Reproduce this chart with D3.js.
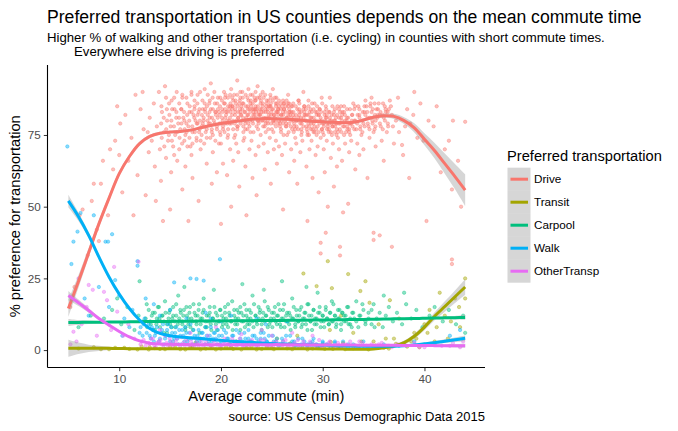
<!DOCTYPE html>
<html><head><meta charset="utf-8">
<script src="https://cdn.jsdelivr.net/npm/d3@7"></script>
<style>body{margin:0;background:#fff}svg{display:block}text{font-family:"Liberation Sans",Arial,sans-serif}</style>
</head><body><svg id="c" width="678" height="431"></svg>
<script>
const series = ["Drive","Transit","Carpool","Walk","OtherTransp"];
const colors = ["#F8766D","#A3A500","#00BF7D","#00B0F6","#E76BF3"];
const xTicks = [10,20,30,40];
const yTicks = [0,25,50,75];
const fitX = [5,6,7,8,9,10,11,12,13,14,15,16,17,18,19,20,21,22,23,24,25,26,27,28,29,30,31,32,33,34,35,36,37,38,39,40,41,42,43,44];
const driveFit = [14.5,24,34,44,53,61.5,67.5,72,74.5,75.6,76,76.2,76.7,77.5,78.3,79,79.5,80,80.5,80.7,80.7,80.6,80.4,80.1,79.8,79.6,79.4,79.3,79.4,80.2,81.2,81.7,81.5,80,77.5,73.5,69.5,65,60.5,55.8];
const driveSe = [3,2.2,1.6,1.3,1.1,0.9,0.8,0.7,0.6,0.5,0.5,0.5,0.5,0.5,0.5,0.5,0.5,0.5,0.5,0.5,0.5,0.5,0.5,0.5,0.5,0.5,0.5,0.5,0.5,0.55,0.6,0.7,0.9,1.2,1.6,2.1,2.7,3.5,4.4,5.5];
const transitFit = [0.6,0.6,0.6,0.6,0.6,0.55,0.5,0.5,0.5,0.45,0.45,0.45,0.45,0.45,0.45,0.45,0.45,0.45,0.45,0.45,0.45,0.45,0.45,0.45,0.45,0.4,0.4,0.35,0.3,0.3,0.4,0.8,1.4,2.6,4.8,8,11.8,15.2,18.6,22];
const transitSe = [3,2,1.3,0.9,0.6,0.45,0.35,0.3,0.3,0.3,0.3,0.3,0.3,0.3,0.3,0.3,0.3,0.3,0.3,0.3,0.3,0.3,0.3,0.3,0.3,0.3,0.3,0.3,0.3,0.3,0.3,0.4,0.5,0.7,0.9,1.1,1.4,1.8,2.2,2.7];
const carpoolFit = [9.6,9.65,9.7,9.7,9.75,9.8,9.85,9.9,9.95,9.95,10,10.05,10.05,10.1,10.1,10.15,10.2,10.2,10.25,10.3,10.3,10.35,10.4,10.4,10.45,10.5,10.55,10.6,10.65,10.7,10.75,10.8,10.9,10.95,11,11.1,11.15,11.25,11.3,11.4];
const carpoolSe = [1.2,0.8,0.6,0.45,0.35,0.3,0.3,0.3,0.3,0.3,0.3,0.3,0.3,0.3,0.3,0.3,0.3,0.3,0.3,0.3,0.3,0.3,0.3,0.3,0.3,0.3,0.3,0.3,0.3,0.3,0.3,0.3,0.3,0.3,0.3,0.35,0.4,0.5,0.6,0.8];
const walkFit = [52,46.5,40,32.5,25.5,19.5,14.5,10.5,7.5,5.8,5,4.6,4.3,4,3.7,3.4,3.1,2.9,2.7,2.5,2.3,2.1,2,1.9,1.8,1.7,1.6,1.5,1.4,1.35,1.3,1.3,1.35,1.5,1.8,2.2,2.6,3.1,3.6,4.1];
const walkSe = [2.2,1.5,1,0.7,0.5,0.4,0.35,0.3,0.3,0.3,0.3,0.3,0.3,0.3,0.3,0.3,0.3,0.3,0.3,0.3,0.3,0.3,0.3,0.3,0.3,0.3,0.3,0.3,0.3,0.3,0.3,0.3,0.3,0.35,0.4,0.45,0.55,0.65,0.8,1];
const otherFit = [19,16.5,13.8,11,8.7,6.5,4.6,3.2,2.4,2.1,2,1.95,1.9,1.9,1.9,1.9,1.9,1.9,1.9,1.9,1.9,1.9,1.85,1.85,1.8,1.8,1.8,1.75,1.75,1.7,1.7,1.65,1.65,1.6,1.6,1.6,1.55,1.55,1.5,1.5];
const otherSe = [1.6,1.1,0.8,0.55,0.4,0.35,0.3,0.3,0.3,0.3,0.3,0.3,0.3,0.3,0.3,0.3,0.3,0.3,0.3,0.3,0.3,0.3,0.3,0.3,0.3,0.3,0.3,0.3,0.3,0.3,0.3,0.3,0.3,0.3,0.35,0.4,0.45,0.5,0.6,0.7];

const drivePts = [[5.2,15],[5.6,22],[6.1,47],[6.4,49],[6.9,33],[7.3,52],[7.5,58],[7.8,42],[8.2,58],[8.4,66],[8.9,47],[9.1,70],[9.4,63],[9.6,73],[9.8,85],[10.1,79],[10.3,55],[10.6,82],[10.9,66],[11.2,74],[11.6,89],[11.8,61],[12.1,84],[12.4,77],[12.6,54],[12.9,69],[11.4,47],[10.0,68],[12.3,90],[8.0,38],
[13.0,81],[13.2,73],[13.4,86],[13.5,64],[13.7,78],[13.9,90],[14.0,70],[14.1,59],[14.2,83],[14.4,76],[14.5,92],[14.6,67],[14.7,80],[14.8,73],[14.9,86],[15.0,49],[15.05,78],[15.1,62],[15.2,84],[15.3,71],[15.4,88],[15.5,75],[15.6,81],[15.7,66],[15.8,79],[13.6,52],[14.3,45],[12.8,76],
[16.0,77],[16.1,84],[15.9,70],[16.2,56],[16.3,81],[16.4,73],[16.2,88],[16.5,64],[16.6,79],[16.7,86],[16.5,75],[16.8,45],[16.9,83],[17.0,71],[16.8,78],[17.1,90],[17.2,76],[17.3,82],[17.1,68],[17.4,87],[17.2,60],[17.5,80],[17.6,74],[17.4,85],[17.7,79],[17.8,83],[17.9,77],[17.7,89],[18.0,70],[17.8,52],[18.1,78],[18.2,84],[18.0,73],[18.3,81],[18.4,86],[18.5,76],[18.3,80],[18.6,65],[18.4,91],[18.7,82],[18.8,79],[18.6,74],[18.9,87],[19.0,84],[19.1,77],[18.9,81],[19.2,69],[19.0,93],[19.1,58],[19.3,80],[19.4,86],[19.2,75],[19.5,83],[19.6,78],[19.7,88],[19.5,82],[19.8,72],[19.6,62],[19.9,85],[20.0,79],[19.8,83],[19.9,76],[20.0,44],
[20.1,81],[20.3,86],[20.2,77],[20.4,84],[20.0,72],[20.3,90],[20.2,65],[20.5,83],[20.6,79],[20.4,88],[20.7,75],[20.5,82],[20.6,61],[20.8,80],[20.9,85],[20.7,77],[21.0,91],[20.8,84],[20.9,70],[21.0,50],[21.1,82],[21.2,87],[21.0,79],[21.3,74],[21.1,85],[21.2,66],[21.4,84],[21.5,80],[21.3,89],[21.6,77],[21.4,83],[21.5,72],[21.6,94],[21.7,81],[21.8,86],[21.6,78],[21.9,83],[21.7,69],[21.8,57],[22.0,85],[22.1,80],[21.9,88],[22.2,76],[22.0,82],[22.1,90],[22.2,73],[22.3,83],[22.4,79],[22.2,86],[22.5,81],[22.3,74],[22.4,64],[22.5,47],[22.6,82],[22.7,87],[22.5,80],[22.8,84],[22.6,77],[22.7,91],[22.8,70],[22.9,86],[23.0,81],[22.8,78],[23.1,84],[22.9,89],[23.0,73],[23.1,60],[23.2,83],[23.3,88],[23.1,80],[23.4,85],[23.2,76],[23.3,82],[23.4,68],[23.5,84],[23.6,80],[23.4,87],[23.7,82],[23.5,78],[23.6,92],[23.7,71],[23.5,54],[23.8,82],[23.9,86],[23.7,79],[24.0,84],[23.8,88],[23.9,75],[24.1,85],[24.2,81],[24.0,83],[24.3,78],[24.1,90],[24.2,72],[24.3,63],[24.4,83],[24.5,87],[24.3,80],[24.6,84],[24.4,76],[24.5,86],[24.6,69],[24.7,82],[24.8,85],[24.6,79],[24.9,88],[24.7,81],[24.8,74],[24.9,58],[25.0,84],[25.1,80],[24.9,86],[25.2,82],[25.0,77],[25.1,91],[25.2,70],[25.3,81],[25.4,85],[25.2,79],[25.5,83],[25.3,88],[25.4,73],[25.5,65],[25.6,83],[25.7,80],[25.5,86],[25.8,78],[25.6,84],[25.7,71],[25.9,82],[26.0,85],[25.8,79],[26.1,87],[25.9,76],[26.0,68],[26.1,49],[26.2,84],[26.3,80],[26.1,83],[26.4,78],[26.2,86],[26.3,72],[26.5,81],[26.6,85],[26.4,79],[26.7,83],[26.5,75],[26.6,89],[26.7,62],[26.8,83],[26.9,80],[26.7,86],[27.0,77],[26.8,82],[26.9,70],
[27.1,82],[27.2,78],[27.0,85],[27.3,74],[27.1,80],[27.2,66],[27.4,80],[27.5,84],[27.3,77],[27.6,87],[27.4,72],[27.5,58],[27.7,83],[27.8,79],[27.6,81],[27.9,75],[27.7,86],[27.8,69],[28.0,80],[28.1,84],[27.9,77],[28.2,82],[28.0,73],[28.1,90],[28.3,82],[28.4,78],[28.2,85],[28.5,76],[28.3,80],[28.4,64],[28.5,45],[28.6,79],[28.7,83],[28.5,75],[28.8,81],[28.6,87],[28.7,70],[28.9,81],[29.0,77],[28.8,84],[29.1,79],[28.9,73],[29.0,60],[29.2,80],[29.3,83],[29.1,76],[29.4,82],[29.2,86],[29.3,68],[29.5,78],[29.6,82],[29.4,75],[29.7,80],[29.5,71],[29.6,55],[29.8,81],[29.9,77],[29.7,84],[30.0,79],[29.8,74],[29.9,88],[30.1,79],[30.2,83],[30.0,76],[30.3,81],[30.1,70],[30.2,62],[30.4,82],[30.5,78],[30.3,85],[30.6,77],[30.4,73],[30.5,50],[30.7,80],[30.8,76],[30.6,83],[30.9,79],[30.7,88],[30.8,67],[31.0,78],[31.1,82],[30.9,75],[31.2,80],[31.0,72],[31.1,57],[31.3,81],[31.4,77],[31.2,84],[31.5,74],[31.3,79],[31.4,64],[31.6,79],[31.7,83],[31.5,76],[31.8,81],[31.6,70],[31.9,82],[32.0,78],[31.8,85],[32.1,75],[31.9,66],[32.0,48],[32.2,80],[32.3,76],[32.1,83],[32.4,78],[32.2,72],[32.5,81],[32.6,77],[32.4,84],[32.7,79],[32.5,51],[32.6,69],[32.8,79],[32.9,82],[32.7,75],[33.0,86],[32.8,73],
[33.2,80],[33.3,77],[33.1,84],[33.4,72],[33.2,63],[33.6,82],[33.7,78],[33.5,85],[33.8,75],[33.6,68],[34.0,79],[34.1,83],[33.9,76],[34.2,87],[34.0,70],[34.4,81],[34.5,78],[34.3,85],[34.6,74],[34.4,60],[34.8,83],[34.9,79],[34.7,86],[35.0,76],[34.8,88],[35.2,80],[35.3,84],[35.1,77],[35.4,82],[35.2,71],[35.6,82],[35.7,78],[35.5,86],[35.8,73],[35.6,40],[36.0,81],[36.1,85],[35.9,77],[36.2,83],[36.0,66],[36.4,79],[36.5,84],[36.3,76],[36.6,87],[36.8,82],[36.9,78],[36.7,85],[37.0,72],[36.8,36],
[37.2,80],[37.5,76],[37.8,71.5],[37.9,68],[38.3,84],[38.6,79],[38.9,82],[39.3,74],[39.6,86],[39.9,73],[40.4,80],[40.9,78],[41.2,85],[41.6,62],[42.0,70],[42.4,73],[42.7,56],[42.8,80],[43.3,66],[44.0,79.6],[43.6,50],[40.2,45],[38.5,60],[42.7,31.6],[42.7,30],[35.0,40.9],[35.0,38.4],[30.3,40.9],[29.8,37.4],[29.8,33.7],[31.7,36],[31.7,33],[37.4,88],[39.0,90],[38.1,78]];

const driveCore = [[14.12,79],[14.18,74],[14.15,85],[14.38,81],[14.43,71],[14.62,77],[14.68,84],[14.6,88],[14.88,75],[14.93,82],[15.12,80],[15.18,73],[15.15,87],[15.38,78],[15.43,84],[15.4,68],[15.62,83],[15.68,76],[15.65,90],[15.88,81],[15.93,74],[15.9,86],
[16.12,79],[16.18,72],[16.1,84],[16.2,89],[16.38,83],[16.43,77],[16.4,80],[16.62,76],[16.68,82],[16.6,88],[16.7,71],[16.88,80],[16.93,85],[16.9,74],
[17.12,83],[17.18,78],[17.1,89],[17.2,72],[17.38,81],[17.43,76],[17.4,84],[17.62,79],[17.68,86],[17.6,73],[17.7,82],[17.88,84],[17.93,80],[17.85,76],[17.95,90],
[18.12,82],[18.18,87],[18.1,75],[18.2,79],[18.38,78],[18.43,84],[18.35,72],[18.45,83],[18.62,85],[18.68,80],[18.6,77],[18.7,89],[18.88,83],[18.93,79],[18.85,86],[18.95,74],
[19.12,81],[19.18,88],[19.1,76],[19.2,84],[19.38,79],[19.43,83],[19.35,90],[19.45,73],[19.62,86],[19.68,81],[19.6,77],[19.7,84],[19.88,82],[19.93,88],[19.85,79],[19.95,75],
[20.12,84],[20.18,80],[20.1,87],[20.2,78],[20.15,83],[20.38,86],[20.43,81],[20.35,76],[20.45,89],[20.4,79],[20.62,83],[20.68,88],[20.6,80],[20.7,85],[20.65,74],[20.88,81],[20.93,86],[20.85,79],[20.95,83],[20.9,89],
[21.12,84],[21.18,80],[21.1,88],[21.2,77],[21.15,85],[21.38,82],[21.43,87],[21.35,79],[21.45,86],[21.4,75],[21.62,85],[21.68,81],[21.6,89],[21.7,83],[21.65,78],[21.88,84],[21.93,79],[21.85,87],[21.95,82],[21.9,90],
[22.12,86],[22.18,81],[22.1,84],[22.2,78],[22.15,88],[22.38,83],[22.43,89],[22.35,80],[22.45,85],[22.4,77],[22.62,85],[22.68,82],[22.6,88],[22.7,79],[22.65,84],[22.88,83],[22.93,87],[22.85,80],[22.95,85],[22.9,76],
[23.12,86],[23.18,82],[23.1,89],[23.2,84],[23.15,79],[23.38,84],[23.43,81],[23.35,87],[23.45,83],[23.4,90],[23.62,85],[23.68,80],[23.6,88],[23.7,83],[23.65,77],[23.88,82],[23.93,87],[23.85,84],[23.95,80],[23.9,89],
[24.12,86],[24.18,83],[24.1,80],[24.2,88],[24.15,78],[24.38,84],[24.43,81],[24.35,89],[24.45,85],[24.4,79],[24.62,83],[24.68,87],[24.6,80],[24.7,85],[24.65,77],[24.88,85],[24.93,82],[24.85,89],[24.95,83],[24.9,79],
[25.12,84],[25.18,80],[25.1,87],[25.2,82],[25.15,76],[25.38,86],[25.43,83],[25.35,80],[25.45,88],[25.4,78],[25.62,82],[25.68,85],[25.6,79],[25.7,87],[25.65,84],[25.88,84],[25.93,80],[25.85,86],[25.95,82],[25.9,77],
[26.12,82],[26.18,86],[26.1,79],[26.2,84],[26.15,75],[26.38,85],[26.43,81],[26.35,83],[26.45,87],[26.4,78],[26.62,82],[26.68,79],[26.6,86],[26.7,84],[26.65,76],[26.88,81],[26.93,85],[26.85,78],[26.95,83],
[27.12,83],[27.18,79],[27.1,86],[27.2,81],[27.15,76],[27.38,82],[27.43,78],[27.35,85],[27.45,80],[27.62,80],[27.68,84],[27.6,77],[27.7,82],[27.65,87],[27.88,83],[27.93,79],[27.85,81],[27.95,76],
[28.12,81],[28.18,85],[28.1,78],[28.2,83],[28.38,80],[28.43,77],[28.35,84],[28.45,82],[28.62,82],[28.68,78],[28.6,85],[28.7,80],[28.65,75],[28.88,79],[28.93,83],[28.85,77],[28.95,86],
[29.12,81],[29.18,78],[29.1,84],[29.2,76],[29.38,80],[29.43,83],[29.35,77],[29.45,85],[29.62,82],[29.68,79],[29.6,76],[29.7,84],[29.88,80],[29.93,77],[29.85,83],[29.95,86],
[30.12,78],[30.18,82],[30.1,75],[30.2,80],[30.38,81],[30.43,77],[30.35,84],[30.45,79],[30.62,79],[30.68,83],[30.6,76],[30.7,81],[30.88,82],[30.93,78],[30.85,80],[30.95,85],
[31.12,80],[31.18,76],[31.1,83],[31.2,78],[31.38,79],[31.43,82],[31.35,75],[31.45,85],[31.62,81],[31.68,77],[31.6,84],[31.7,79],[31.88,80],[31.93,83],[31.85,76],
[32.12,78],[32.18,82],[32.1,85],[32.38,81],[32.43,77],[32.35,80],[32.62,79],[32.68,84],[32.6,76],[32.88,82],[32.93,78],[32.85,80],
[33.12,80],[33.18,85],[33.1,77],[33.38,79],[33.43,82],[33.62,81],[33.68,77],[33.6,84],[33.88,80],[33.93,83],
[34.12,78],[34.18,82],[34.1,85],[34.38,83],[34.43,79],[34.62,81],[34.68,85],[34.6,77],[34.88,80],[34.93,84],
[35.12,82],[35.18,78],[35.1,86],[35.38,81],[35.43,84],[35.62,79],[35.68,83],[35.88,82],[35.93,86],[36.12,80],[36.18,84],[36.38,83],[36.43,78]];

const transitPts = [[6.0,0.5],[7.5,1],[9.0,0.3],[10.5,0.8],[11.8,0.2],[13.0,1],[14.0,0.4],[15.0,1.2],[16.0,0.3],[17.0,0.8],[18.0,0.2],[19.0,1.5],[20.0,0.5],[21.0,0.9],[22.0,0.2],[23.0,1.3],[24.0,0.4],[25.0,0.7],[26.0,2],[27.0,0.3],[28.0,1],[29.0,0.5],[30.0,1.8],[31.0,0.4],[32.0,2.5],[33.0,0.6],[34.0,1.5],[35.0,3],[36.0,0.8],[37.0,4],[38.0,2],[39.0,6],[40.0,9],[41.0,3],[42.0,12],[43.0,18],[44.0,25],[40.5,14],[41.5,20],[43.5,8],[39.5,1],[28.1,26.7],[32.5,26.5],[29.4,22.3],[30.9,21.6],[33.7,20.6],[36.6,17.4],[34.6,16.5],[30.5,31],[30.7,7],[33.0,6],[35.5,9],[37.5,11],[27.5,5],[31.8,12],[25.5,4],[21.5,3],[17.5,2.5],[34.2,24],[38.7,3],[42.3,4]];
const transitCore = [[8.2,0.3],[9.6,0.8],[11.0,0.4],[12.2,1.2],[12.9,0.2],[13.5,0.7],[14.5,0.3],[15.5,0.9],[16.5,0.2],[17.2,1.1],[18.5,0.5],[19.5,0.2],[20.5,1],[21.2,0.4],[22.5,0.8],[23.5,0.2],[24.5,1.1],[25.2,0.3],[26.5,0.6],[27.2,1.4],[28.5,0.2],[29.5,0.9],[30.2,0.4],[31.5,1.3],[32.2,0.3],[33.5,0.8],[34.5,0.2],[35.2,1.6],[36.5,0.5],[37.2,2.2],[38.3,1.2],[39.2,4],[40.3,6],[41.2,8],[42.6,10],[43.4,15],[44.0,18],[20.8,2],[26.8,2.3],[30.8,2.8],[33.8,3],[36.2,4]];

const carpoolPts = [[6.0,8],[7.2,12],[8.5,11],[9.3,14],[10.2,9],[10.8,15],[11.5,7],[11.9,12],[12.3,10],[12.7,16],[9.8,18],[12.0,24],
[13.1,9],[13.3,13],[13.5,7],[13.7,11],[13.9,15],[14.0,8],[14.2,12],[14.4,10],[14.5,17],[14.7,6],[14.9,13],[15.0,9],[15.2,11],[15.3,15],[15.5,8],[15.6,12],[15.8,19],[15.9,10],[16.0,14],
[16.2,9],[16.3,12],[16.5,7],[16.6,15],[16.8,11],[16.9,13],[17.0,8],[17.2,10],[17.3,16],[17.5,12],[17.6,9],[17.8,14],[17.9,6],[18.0,11],[18.2,13],[18.3,18],[18.5,10],[18.6,8],[18.8,12],[18.9,15],[19.0,9],[19.2,11],[19.3,21],[19.5,13],[19.6,7],[19.8,10],[19.9,14],[16.4,22],
[20.1,12],[20.2,9],[20.4,15],[20.5,11],[20.7,8],[20.8,13],[21.0,10],[21.1,17],[21.3,12],[21.4,9],[21.6,14],[21.7,11],[21.9,7],[22.0,13],[22.2,10],[22.3,16],[22.5,12],[22.6,9],[22.8,14],[22.9,11],[23.1,19],[23.2,8],[23.4,12],[23.5,10],[23.7,15],[23.8,13],[24.0,9],[24.1,11],[24.3,17],[24.4,12],[24.6,8],[24.7,14],[24.9,10],[25.0,13],[22.1,23],[24.2,21],
[25.2,11],[25.3,15],[25.5,9],[25.6,12],[25.8,14],[25.9,8],[26.1,11],[26.2,16],[26.4,10],[26.5,13],[26.7,9],[26.8,12],[27.0,18],[27.1,11],[27.3,8],[27.4,14],[27.6,10],[27.7,12],[27.9,15],[28.0,9],[28.2,11],[28.3,13],[28.5,7],[28.6,16],[28.8,10],[28.9,12],[29.1,14],[29.2,9],[29.4,11],[29.5,20],[29.7,13],[29.8,8],[30.0,12],[30.1,10],[30.3,15],[30.4,11],[30.6,9],[30.7,13],[30.9,17],[31.0,10],[31.2,12],[31.3,8],[31.5,14],[31.6,11],[31.8,9],[31.9,13],[26.0,24],[28.4,22],
[32.1,12],[32.3,10],[32.5,15],[32.7,9],[32.9,13],[33.1,11],[33.3,17],[33.5,8],[33.7,12],[34.0,14],[34.2,10],[34.5,13],[34.8,9],[35.0,16],[35.3,11],[35.6,13],[35.9,8],[36.2,12],[36.5,15],[36.9,10],[37.3,13],[37.8,9],[38.2,16],[38.7,11],[39.2,14],[39.8,8],[40.5,12],[41.0,15],[41.8,10],[42.4,14],[43.1,9],[43.8,12],[44.0,6],[36.0,19],[38.0,20]];
const carpoolCore = [[12.6,11],[12.75,8],[12.9,14],[13.05,10],[13.2,12],[13.35,7],[13.5,13],[13.65,9],[13.8,15],[13.95,11],[14.1,10],[14.25,12],[14.4,6],[14.55,13],[14.7,9],[14.85,11],[15.0,14],[15.15,8],[15.3,12],[15.45,10],[15.6,16],[15.75,9],[15.9,11],[16.05,13],
[16.2,10],[16.35,14],[16.5,8],[16.65,12],[16.8,9],[16.95,15],[17.1,11],[17.25,7],[17.4,13],[17.55,10],[17.7,12],[17.85,16],[18.0,9],[18.15,11],[18.3,14],[18.45,8],[18.6,12],[18.75,10],[18.9,13],[19.05,7],[19.2,11],[19.35,15],[19.5,9],[19.65,12],
[19.8,10],[19.95,14],[20.1,8],[20.25,11],[20.4,13],[20.55,9],[20.7,16],[20.85,12],[21.0,10],[21.15,7],[21.3,14],[21.45,11],[21.6,9],[21.75,13],[21.9,15],[22.05,10],[22.2,12],[22.35,8],[22.5,14],[22.65,11],[22.8,9],[22.95,13],[23.1,10],[23.25,16],
[23.4,12],[23.55,9],[23.7,11],[23.85,14],[24.0,7],[24.15,13],[24.3,10],[24.45,12],[24.6,15],[24.75,9],[24.9,11],[25.05,8],[25.2,13],[25.35,10],[25.5,12],[25.65,16],[25.8,9],[25.95,11],[26.1,14],[26.25,8],[26.4,12],[26.55,10],[26.7,13],[26.85,7],
[27.0,11],[27.15,15],[27.3,9],[27.45,12],[27.6,10],[27.75,14],[27.9,8],[28.05,11],[28.2,13],[28.35,9],[28.5,16],[28.65,12],[28.8,10],[28.95,7],[29.1,14],[29.25,11],[29.4,9],[29.55,13],[29.7,15],[29.85,10],[30.0,12],[30.15,8],[30.3,14],[30.45,11],
[30.6,9],[30.75,13],[30.9,10],[31.05,16],[31.2,12],[31.35,9],[31.5,11],[31.65,14],[31.8,7],[31.95,13],[32.1,10],[32.25,12],[32.4,15],[32.55,9],[32.7,11],[32.85,8],[33.0,13],[33.3,10],[33.6,12],[33.9,16],[34.2,9],[34.5,11],[34.8,14],[35.1,8]];

const walkPts = [[4.9,71],[5.5,37.8],[5.9,41.3],[6.2,47.8],[7.5,47],[8.65,37.8],[8.9,37.8],[9.3,40.4],[9.6,24.4],[11.8,29.4],[11.8,31],[15.4,23.6],[17.0,25],[17.6,24.8],[18.3,24.2],[19.9,31.7],[5.3,30],[6.6,18],[7.0,12],[8.0,22],[9.0,15],[10.0,19],[10.5,11],[11.0,8],[11.3,14],[12.0,6],[12.4,9],[12.6,18],[10.3,5],
[13.0,5],[13.2,8],[13.4,3],[13.6,6],[13.8,10],[14.0,4],[14.2,7],[14.4,2],[14.6,5],[14.8,9],[15.0,3],[15.2,6],[15.4,4],[15.6,8],[15.8,2],[16.0,5],[16.2,7],[16.4,3],[16.6,6],[16.8,4],[17.0,9],[17.2,2],[17.4,5],[17.6,3],[17.8,7],[18.0,4],[18.2,6],[18.4,2],[18.6,5],[18.8,3],[19.0,8],[19.2,4],[19.4,6],[19.6,2],[19.8,5],[20.0,3],[20.3,7],[20.6,4],[20.9,2],[21.2,5],[21.5,3],[21.8,6],[22.1,2],[22.4,4],[22.7,7],[23.0,3],[23.3,5],[23.6,2],[23.9,4],[24.2,6],[24.5,3],[24.8,2],[25.1,5],[25.4,3],[25.7,1.5],[26.0,4],[26.4,2],[26.8,5],[27.2,3],[27.6,1.5],[28.0,4],[28.5,2],[29.0,3],[29.5,1],[30.0,2.5],[30.6,1.5],[31.2,3],[31.8,1],[32.5,2],[33.2,1.5],[34.0,3],[35.0,1],[36.0,2],[37.5,1.5],[39.0,3],[41.0,2],[42.5,5],[43.5,7],[21.0,12],[23.5,11],[18.5,13],[26.5,10]];
const walkCore = [[12.1,8],[12.3,5],[12.5,11],[12.7,6],[12.9,9],[13.1,4],[13.3,7],[13.5,5],[13.7,8],[13.9,3],[14.1,6],[14.3,9],[14.5,4],[14.7,7],[14.9,5],[15.1,8],[15.3,3],[15.5,6],[15.7,4],[15.9,7],[16.1,2],[16.3,5],[16.5,8],[16.7,3],[16.9,6],[17.1,4],[17.3,7],[17.5,2],[17.7,5],[17.9,3],[18.1,6],[18.3,4],[18.5,8],[18.7,2],[18.9,5],[19.1,3],[19.3,6],[19.5,4],[19.7,7],[19.9,2],[20.1,5],[20.3,3],[20.5,6],[20.7,4],[20.9,2],[21.1,5],[21.3,3],[21.5,7],[21.7,2],[21.9,4],[22.1,3],[22.3,6],[22.5,2],[22.7,4],[22.9,3],[23.1,5],[23.3,2],[23.5,4],[23.7,3],[23.9,6],[24.1,2],[24.3,4],[24.5,3],[24.7,5],[24.9,2],[25.2,3],[25.5,4],[25.8,2],[26.1,3],[26.4,5],[26.7,2],[27.0,3],[27.3,1.5],[27.6,4],[27.9,2],[28.2,3],[28.5,1.5],[28.8,2.5],[29.1,4],[29.4,2],[29.7,1.5],[30.0,3],[30.4,2],[30.8,1],[31.2,2.5],[31.6,1.5],[32.0,3],[32.5,1],[33.0,2],[33.6,1.5],[14.0,12],[15.0,14],[16.6,11],[13.4,16],[20.0,10],[24.4,9],[19.0,11]];

const otherPts = [[5.5,6.4],[5.8,3],[6.3,9],[7.0,22.7],[7.4,21],[8.5,20.3],[8.8,17.4],[9.8,13.4],[6.8,15],[5.2,2],[7.8,5],[8.2,10],[9.2,7],[10.4,5],[10.9,9],[11.5,4],[12.2,3],[11.9,30.8],[6.0,25],[9.5,29],
[13.0,2],[13.3,4],[13.6,1],[13.9,3],[14.2,2],[14.5,5],[14.8,1.5],[15.1,3],[15.4,2],[15.7,4],[16.0,1],[16.3,2.5],[16.6,3.5],[16.9,1.5],[17.2,2],[17.5,4],[17.8,1],[18.1,3],[18.4,2],[18.7,5],[19.0,1.5],[19.3,3],[19.6,2],[19.9,1],[20.3,3],[20.7,2],[21.1,4],[21.5,1.5],[21.9,2.5],[22.3,1],[22.7,3],[23.1,2],[23.5,1.5],[23.9,3.5],[24.3,2],[24.7,1],[25.1,2.5],[25.6,1.5],[26.1,3],[26.6,1],[27.1,2],[27.6,1.5],[28.1,3],[28.7,1],[29.3,2],[29.9,1.5],[30.6,2.5],[31.3,1],[32.0,2],[32.8,1.5],[33.6,3],[34.5,1],[35.5,2],[36.5,1.5],[38.0,2],[39.5,1],[41.0,2.5],[42.5,1.5],[43.8,3],[24.0,7],[27.0,6],[19.5,8]];
const otherCore = [[12.1,2],[12.4,3.5],[12.6,1.5],[12.9,2.5],[13.15,4],[13.45,1.5],[13.75,2.5],[14.05,3.5],[14.35,1],[14.65,2.5],[14.95,4],[15.25,1.5],[15.55,3],[15.85,2],[16.15,4.5],[16.45,1.5],[16.75,2],[17.05,3],[17.35,1],[17.65,2.5],[17.95,4],[18.25,1.5],[18.55,3],[18.85,2],[19.15,1],[19.45,3.5],[19.75,2],[20.05,1.5],[20.35,4],[20.65,2.5],[20.95,1],[21.25,3],[21.55,2],[21.85,4],[22.15,1.5],[22.45,2.5],[22.75,1],[23.05,3.5],[23.35,2],[23.65,1],[23.95,2.5],[24.25,3.5],[24.55,1.5],[24.85,2],[25.15,1],[25.45,3],[25.75,2],[26.05,1.5],[26.35,3.5],[26.65,2],[26.95,1],[27.25,2.5],[27.55,3.5],[27.85,1.5],[28.15,2],[28.45,1],[28.75,3],[29.05,2],[29.35,1.5],[29.65,3.5],[29.95,1],[30.3,2],[30.7,3],[31.1,1.5],[31.5,2.5],[31.9,1],[32.3,2],[32.7,3],[33.1,1.5],[33.5,1],[33.9,2.5],[34.3,1.5],[34.8,2],[35.3,1],[35.8,2.5],[36.3,1.5],[36.8,1],[37.4,2],[38.2,1.5],[39.0,2.5],[40.0,1],[40.8,2],[41.7,1.5],[42.8,2.5],[43.5,1],[17.0,6],[22.0,5.5],[25.0,5],[29.0,5],[14.0,7]];

const fits = [driveFit, transitFit, carpoolFit, walkFit, otherFit];
const ses = [driveSe, transitSe, carpoolSe, walkSe, otherSe];
const pts = [drivePts.concat(driveCore), transitPts.concat(transitCore), carpoolPts.concat(carpoolCore), walkPts.concat(walkCore), otherPts.concat(otherCore)];

const svg = d3.select("#c");
const L = 47.5, R = 485, T = 65, B = 367.5;
const x = d3.scaleLinear().domain([2.95, 45.95]).range([L, R]);
const y = d3.scaleLinear().domain([-5.9, 99.4]).range([B - 0.5, T]);

const gp = svg.append("g");
pts.forEach((arr, i) => {
  gp.selectAll(null).data(arr).enter().append("circle")
    .attr("cx", d => x(d[0])).attr("cy", d => y(d[1])).attr("r", 1.7)
    .attr("fill", colors[i]).attr("fill-opacity", 0.45)
    .attr("stroke", colors[i]).attr("stroke-opacity", 0.6).attr("stroke-width", 0.6);
});

const gs = svg.append("g");
fits.forEach((f, i) => {
  const rows = fitX.map((xv, k) => ({x: xv, y: f[k], se: ses[i][k]}));
  const area = d3.area().curve(d3.curveCatmullRom)
    .x(d => x(d.x)).y0(d => y(d.y - d.se)).y1(d => y(d.y + d.se));
  const line = d3.line().curve(d3.curveCatmullRom).x(d => x(d.x)).y(d => y(d.y));
  gs.append("path").attr("d", area(rows)).attr("fill", "#999999").attr("fill-opacity", 0.4);
  gs.append("path").attr("d", line(rows)).attr("fill", "none").attr("stroke", colors[i]).attr("stroke-width", 3);
});

const ax = svg.append("g").attr("transform", `translate(0,${B})`)
  .call(d3.axisBottom(x).tickValues(xTicks).tickSize(3.7).tickSizeOuter(0).tickPadding(3));
const ay = svg.append("g").attr("transform", `translate(${L},0)`)
  .call(d3.axisLeft(y).tickValues(yTicks).tickSize(3.7).tickSizeOuter(0).tickPadding(3));
[ax, ay].forEach(g => {
  g.select(".domain").remove();
  g.selectAll(".tick line").attr("stroke", "#333333").attr("stroke-width", 1);
  g.selectAll(".tick text").attr("fill", "#4d4d4d").attr("font-size", "11.7px")
   .attr("font-family", "Liberation Sans, Arial, sans-serif");
});
svg.append("line").attr("x1", L).attr("x2", L).attr("y1", T).attr("y2", B).attr("stroke", "#000").attr("stroke-width", 1.1);
svg.append("line").attr("x1", L).attr("x2", R).attr("y1", B).attr("y2", B).attr("stroke", "#000").attr("stroke-width", 1.1);

svg.append("text").attr("x", 47).attr("y", 23).attr("font-size", "17.6px").text("Preferred transportation in US counties depends on the mean commute time");
svg.append("text").attr("x", 47).attr("y", 42).attr("font-size", "13.2px").text("Higher % of walking and other transportation (i.e. cycling) in counties with short commute times.");
svg.append("text").attr("x", 74).attr("y", 56).attr("font-size", "13.2px").text("Everywhere else driving is preferred");
svg.append("text").attr("x", (L + R) / 2).attr("y", 401).attr("text-anchor", "middle").attr("font-size", "14.67px").text("Average commute (min)");
svg.append("text").attr("transform", `translate(20,${(T + B) / 2}) rotate(-90)`).attr("text-anchor", "middle").attr("font-size", "14.67px").text("% preference for transportation");
svg.append("text").attr("x", R).attr("y", 421).attr("text-anchor", "end").attr("font-size", "13px").text("source: US Census Demographic Data 2015");

const lg = svg.append("g");
lg.append("text").attr("x", 507).attr("y", 161).attr("font-size", "14.67px").text("Preferred transportation");
series.forEach((s, i) => {
  const cy = 179.2 + i * 23;
  lg.append("rect").attr("x", 507.5).attr("y", cy - 11.5).attr("width", 23).attr("height", 23).attr("fill", "#999999").attr("fill-opacity", 0.4);
  lg.append("line").attr("x1", 510.5).attr("x2", 528).attr("y1", cy).attr("y2", cy).attr("stroke", colors[i]).attr("stroke-width", 3);
  lg.append("text").attr("x", 534).attr("y", cy + 4).attr("font-size", "11.7px").text(s);
});
</script></body></html>
